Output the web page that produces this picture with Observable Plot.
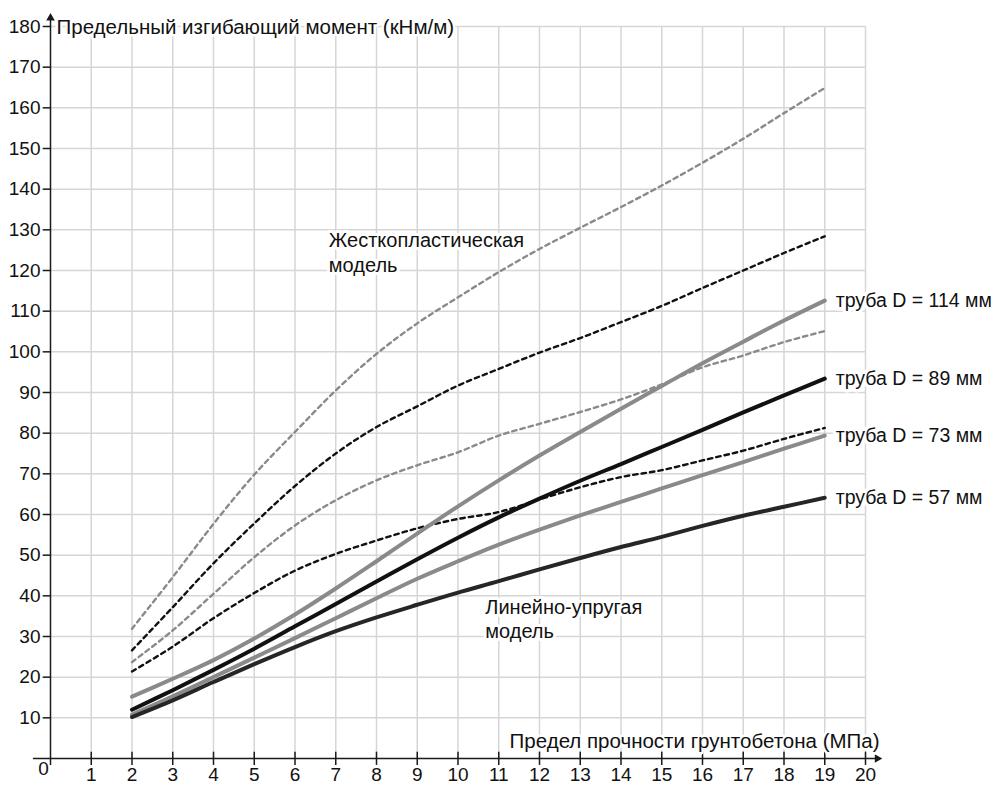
<!DOCTYPE html>
<html>
<head>
<meta charset="utf-8">
<script src="https://cdn.jsdelivr.net/npm/d3@7"></script>
<script src="https://cdn.jsdelivr.net/npm/@observablehq/plot@0.6"></script>
<style>
  html, body { margin: 0; padding: 0; background: #fff; }
  #chart svg { display: block; }
</style>
</head>
<body>
<div id="chart"></div>
<script>
// ---- Data ----
const strength = [2, 3, 4, 5, 6, 7, 8, 9, 10, 11, 12, 13, 14, 15, 16, 17, 18, 19];

// Linear-elastic model (solid lines)
const elastic114 = [15.2, 19.6, 24.2, 29.5, 35.4, 41.8, 48.5, 55.3, 62.0, 68.4, 74.5, 80.3, 86.0, 91.6, 97.2, 102.5, 107.7, 112.6];
const elastic89  = [12.0, 16.8, 21.8, 27.0, 32.5, 38.0, 43.5, 49.0, 54.3, 59.3, 63.9, 68.3, 72.4, 76.6, 80.8, 85.1, 89.3, 93.4];
const elastic73  = [10.8, 15.3, 20.0, 24.8, 29.6, 34.5, 39.4, 44.2, 48.5, 52.6, 56.3, 59.8, 63.1, 66.4, 69.7, 72.9, 76.2, 79.4];
const elastic57  = [10.2, 14.3, 18.8, 23.2, 27.4, 31.3, 34.7, 37.8, 40.8, 43.6, 46.5, 49.3, 52.0, 54.5, 57.2, 59.7, 61.9, 64.1];

// Rigid-plastic model (dashed lines)
const rigid114 = [31.9, 44.6, 57.7, 69.8, 80.3, 90.5, 99.5, 107.0, 113.4, 119.6, 125.3, 130.5, 135.6, 140.9, 146.5, 152.4, 158.7, 164.9];
const rigid89  = [26.6, 37.2, 48.0, 57.8, 67.0, 75.0, 81.5, 86.6, 91.7, 95.8, 99.8, 103.4, 107.3, 111.3, 115.7, 120.0, 124.3, 128.4];
const rigid73  = [23.7, 31.5, 40.5, 49.5, 57.3, 63.5, 68.4, 72.1, 75.3, 79.4, 82.3, 85.2, 88.3, 92.0, 96.2, 99.1, 102.4, 105.1];
const rigid57  = [21.4, 27.5, 34.5, 40.7, 46.2, 50.3, 53.6, 56.6, 58.9, 60.6, 63.7, 66.7, 69.2, 70.9, 73.3, 75.7, 78.6, 81.3];

const xTicks = [1, 2, 3, 4, 5, 6, 7, 8, 9, 10, 11, 12, 13, 14, 15, 16, 17, 18, 19, 20];
const yTicks = [10, 20, 30, 40, 50, 60, 70, 80, 90, 100, 110, 120, 130, 140, 150, 160, 170, 180];
const originLabel = ["0"];

const xTitle = "Предел прочности грунтобетона (МПа)";
const yTitle = "Предельный изгибающий момент (кНм/м)";
const pipeLabels = ["труба D = 114 мм", "труба D = 89 мм", "труба D = 73 мм", "труба D = 57 мм"];
const rigidTitle = "Жесткопластическая\nмодель";
const elasticTitle = "Линейно-упругая\nмодель";

// ---- Helpers ----
const rows = (values) => strength.map((x, i) => ({x, y: values[i]}));
const lastX = strength[strength.length - 1];
const elasticSeries = [elastic114, elastic89, elastic73, elastic57];
const labelRows = pipeLabels.map((t, i) => ({text: t, x: lastX, y: elasticSeries[i][elasticSeries[i].length - 1]}));

const xDomain = [0, 20];
const yDomain = [0, 180];

const font = "'Liberation Sans', Arial, Helvetica, sans-serif";
const grid = "#d6d6d6";
const axisColor = "#1a1a1a";
const textColor = "#111111";
const grayLine = "#8a8a8a";
const blackLine = "#111111";

const dashed = (values, color) => Plot.line(rows(values), {
  x: "x", y: "y", stroke: color, strokeWidth: 2.4, strokeDasharray: "4.5,4", curve: "catmull-rom"
});
const solid = (values, color) => Plot.line(rows(values), {
  x: "x", y: "y", stroke: color, strokeWidth: 4, strokeLinecap: "round", curve: "catmull-rom"
});
const haloText = (data, options) => Plot.text(data, {
  fill: textColor, stroke: "#fff", fontSize: 20, ...options
});

const chart = Plot.plot({
  width: 996,
  height: 785,
  marginLeft: 50,
  marginRight: 131,
  marginTop: 26,
  marginBottom: 27,
  x: {domain: xDomain, axis: null},
  y: {domain: yDomain, axis: null},
  style: {fontFamily: font, fontSize: "18px", background: "#fff", color: textColor},
  marks: [
    // grid
    Plot.ruleX(xTicks, {x: d => d, y1: yDomain[0], y2: yDomain[1], stroke: grid, strokeWidth: 1.5}),
    Plot.ruleY(yTicks, {y: d => d, x1: xDomain[0], x2: xDomain[1], stroke: grid, strokeWidth: 1.5}),

    // rigid-plastic model (dashed)
    dashed(rigid114, grayLine),
    dashed(rigid89, blackLine),
    dashed(rigid73, grayLine),
    dashed(rigid57, blackLine),

    // linear-elastic model (solid)
    solid(elastic114, grayLine),
    solid(elastic89, blackLine),
    solid(elastic73, grayLine),
    solid(elastic57, "#262626"),

    // axes lines
    Plot.ruleY([0], {x1: xDomain[0] - 0.42, x2: xDomain[1] + 0.27, stroke: axisColor, strokeWidth: 1.5}),
    Plot.ruleX([0], {y1: yDomain[0] - 1.7, y2: yDomain[1] + 2, stroke: axisColor, strokeWidth: 1.5}),
    // ticks
    Plot.ruleX(xTicks, {x: d => d, y1: -1.7, y2: 1.55, stroke: axisColor, strokeWidth: 1.5}),
    Plot.ruleY(yTicks, {y: d => d, x1: -0.18, x2: 0, stroke: axisColor, strokeWidth: 1.5}),
    // arrow heads
    Plot.dot([xDomain[1]], {x: d => d + 0.29, y: 0, symbol: "triangle", r: 3.2, fill: axisColor, stroke: null, rotate: 90}),
    Plot.dot([yDomain[1]], {x: 0, y: d => d + 2.1, symbol: "triangle", r: 3.2, fill: axisColor, stroke: null}),

    // tick labels
    Plot.text(xTicks, {x: d => d, y: 0, dy: 16, text: d => String(d), fontSize: 19, fill: textColor}),
    Plot.text(yTicks, {x: 0, y: d => d, dx: -10, textAnchor: "end", text: d => String(d), fontSize: 19, fill: textColor}),
    Plot.text(originLabel, {x: 0, y: 0, dx: -7, dy: 10, text: d => d, fontSize: 19, fill: textColor}),

    // axis titles
    haloText([yTitle], {x: 0, y: yDomain[1], dx: 6, dy: 1, textAnchor: "start", text: d => d, fontSize: 20.5, strokeWidth: 5}),
    haloText([xTitle], {x: xDomain[1], y: 0, dx: 14, dy: -17, textAnchor: "end", text: d => d, fontSize: 20.5, strokeWidth: 5}),

    // series labels
    haloText(labelRows, {x: "x", y: "y", text: "text", dx: 11, textAnchor: "start", fontSize: 19.5, strokeWidth: 7}),

    // model annotations
    haloText([rigidTitle], {x: 6.83, y: 124.6, text: d => d, textAnchor: "start", lineHeight: 1.24, fontSize: 20, strokeWidth: 6}),
    haloText([elasticTitle], {x: 10.67, y: 34.4, text: d => d, textAnchor: "start", lineHeight: 1.2, fontSize: 20, strokeWidth: 6})
  ]
});

document.getElementById("chart").appendChild(chart);
</script>
</body>
</html>
